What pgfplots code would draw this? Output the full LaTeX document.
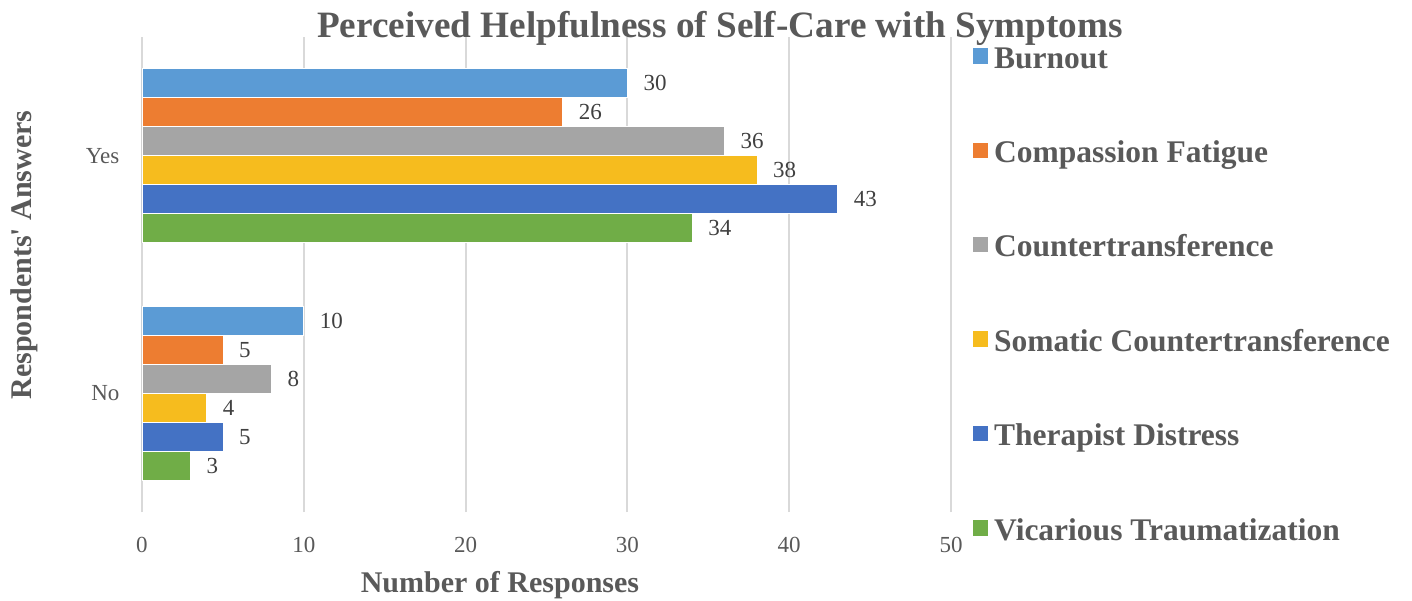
\documentclass[border=0pt]{standalone}
\usepackage{pgfplots}
\pgfplotsset{compat=1.18}
\usepackage{fontspec}
\setmainfont{Liberation Serif}

\definecolor{cBurn}{HTML}{5B9BD5}
\definecolor{cComp}{HTML}{ED7D31}
\definecolor{cCount}{HTML}{A5A5A5}
\definecolor{cSoma}{HTML}{F6BC1E}
\definecolor{cTher}{HTML}{4472C4}
\definecolor{cVica}{HTML}{70AD47}
\definecolor{txtgray}{HTML}{595959}
\definecolor{gridgray}{HTML}{D9D9D9}

\begin{document}
\begin{tikzpicture}
\path[use as bounding box] (-71pt,-44pt) rectangle (635pt,256pt);
\begin{axis}[
  scale only axis,
  width=404.5pt, height=237.5pt,
  xmin=0, xmax=50,
  ymin=-0.5, ymax=1.5,
  xtick={0,10,20,30,40,50},
  ytick={0,1},
  yticklabels={No,Yes},
  axis line style={draw=none},
  tick style={draw=none},
  xmajorgrids,
  grid style={gridgray, line width=1pt},
  /pgf/number format/assume math mode=true,
  ticklabel style={font=\fontsize{11.5}{13}\selectfont, text=txtgray},
  xticklabel style={yshift=-9pt},
  yticklabel style={xshift=-3.5pt},
  xbar,
  bar width=14.5pt,
  every axis plot/.append style={draw=white, line width=0.3pt},
  nodes near coords,
  every node near coord/.append style={anchor=west, xshift=4.6pt,
    font=\fontsize{11.5}{13}\selectfont, text=black!75},
  title={Perceived Helpfulness of Self-Care with Symptoms},
  title style={at={(axis description cs:0.7145,0.9958)}, anchor=base, yshift=-5.5pt,
    font=\fontsize{18.6}{20}\selectfont\bfseries, text=txtgray},
  xlabel={Number of Responses},
  xlabel style={at={(axis description cs:0.4425,-0.154)}, anchor=center,
    font=\fontsize{15}{17}\selectfont\bfseries, text=txtgray},
  ylabel={Respondents\textquotesingle\ Answers},
  ylabel style={at={(axis description cs:-0.146,0.541)}, anchor=center,
    font=\fontsize{15}{17}\selectfont\bfseries, text=txtgray},
  legend style={at={(1.0195,1.005)}, anchor=north west, draw=none, fill=none,
    font=\fontsize{15.75}{17}\selectfont\bfseries, text=txtgray,
    row sep=28.7pt,
    nodes={inner sep=0pt, text height=11pt, text depth=4pt},
    /tikz/every odd column/.append style={column sep=3pt}},
  legend cell align=left,
  legend image code/.code={%
    \path[fill=none, draw=none] (0pt,-4pt) rectangle (7.5pt,11pt);
    \fill[#1, draw=none] (0pt,-1.3pt) rectangle (7.5pt,6.4pt);},
]
\addplot[fill=cBurn, bar shift=36.25pt] coordinates {(30,1) (10,0)};
\addplot[fill=cComp, bar shift=21.75pt] coordinates {(26,1) (5,0)};
\addplot[fill=cCount, bar shift=7.25pt] coordinates {(36,1) (8,0)};
\addplot[fill=cSoma, bar shift=-7.25pt] coordinates {(38,1) (4,0)};
\addplot[fill=cTher, bar shift=-21.75pt] coordinates {(43,1) (5,0)};
\addplot[fill=cVica, bar shift=-36.25pt] coordinates {(34,1) (3,0)};
\legend{Burnout, Compassion Fatigue, Countertransference,
  Somatic Countertransference, Therapist Distress, Vicarious Traumatization}
\end{axis}
\end{tikzpicture}
\end{document}
